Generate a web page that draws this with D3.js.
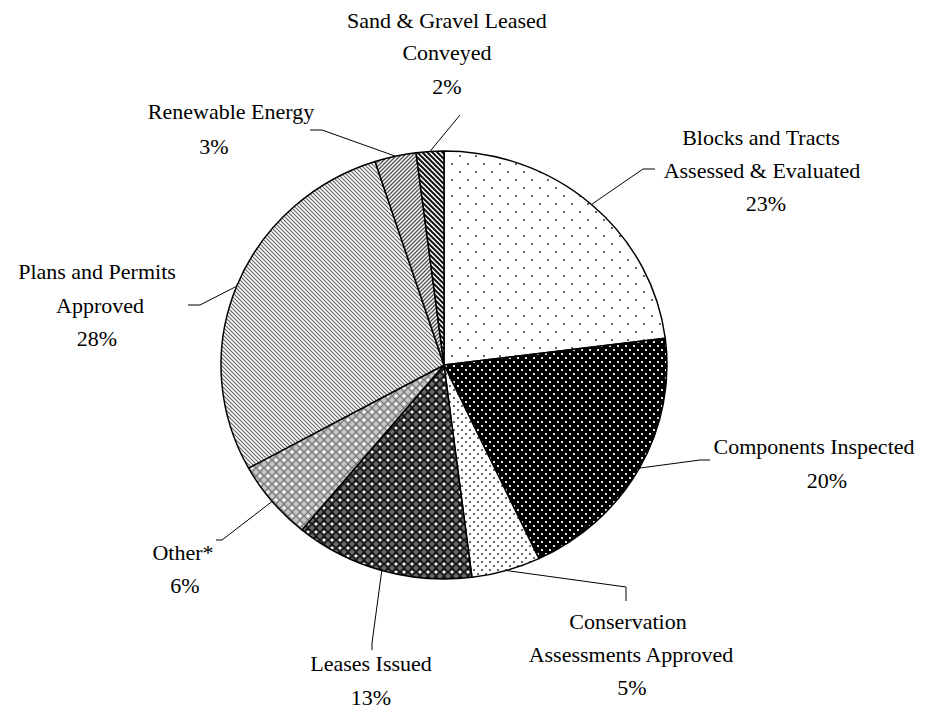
<!DOCTYPE html>
<html>
<head>
<meta charset="utf-8">
<script src="https://cdn.jsdelivr.net/npm/d3@7"></script>
<style>
  body { margin: 0; background: #fff; }
  text { font-family: 'Liberation Serif', 'Times New Roman', serif; font-size: 22px; fill: #000; }
</style>
</head>
<body>
<div class="pie-container"></div>
<script>
// Data
const categories = [
    'Blocks and Tracts Assessed & Evaluated',
    'Components Inspected',
    'Conservation Assessments Approved',
    'Leases Issued',
    'Other*',
    'Plans and Permits Approved',
    'Renewable Energy',
    'Sand & Gravel Leased Conveyed'
];
const values = [23, 20, 5, 13, 6, 28, 3, 2];
const labelLines = [
    ['Blocks and Tracts', 'Assessed & Evaluated'],
    ['Components Inspected'],
    ['Conservation', 'Assessments Approved'],
    ['Leases Issued'],
    ['Other*'],
    ['Plans and Permits', 'Approved'],
    ['Renewable Energy'],
    ['Sand & Gravel Leased', 'Conveyed']
];
const fills = ['dotsSparse', 'dotsDark', 'dotsDense', 'trellisDark', 'trellisLight', 'stripesDown', 'stripesUp', 'stripesHeavy'];

// Layout (label line centres, leader bends)
const labelLayout = [
    { x: [761, 762, 766], y: [137, 170, 203], leader: [[643, 169], [655, 169]] },
    { x: [814, 827], y: [446, 480], leader: [[700, 460], [710, 460]] },
    { x: [628, 631, 632], y: [621, 654, 687], leader: [[626, 587], [626, 601]] },
    { x: [371, 371], y: [663, 697], leader: [[372, 643], [372, 650]] },
    { x: [183, 185], y: [552, 585], leader: [[222, 540], [216, 540]] },
    { x: [97, 100, 97], y: [271, 305, 338], leader: [[200, 305], [188, 305]] },
    { x: [231, 214], y: [111, 146], leader: [[322, 130], [310, 130]] },
    { x: [447, 447, 447], y: [20, 52, 86], leader: [[460, 115]] }
];

const width = 944, height = 710;
const cx = 444, cy = 365, rx = 223, ry = 214;

const svg = d3.select('.pie-container').append('svg')
    .attr('width', width).attr('height', height);

// Patterns
const defs = svg.append('defs');
function makePattern(id, w, h, bg) {
    const p = defs.append('pattern').attr('id', id)
        .attr('patternUnits', 'userSpaceOnUse')
        .attr('width', w).attr('height', h);
    p.append('rect').attr('width', w).attr('height', h).attr('fill', bg);
    return p;
}
let p = makePattern('dotsSparse', 16, 16, '#fff');
p.append('circle').attr('cx', 4).attr('cy', 4).attr('r', 1.1).attr('fill', '#444');
p.append('circle').attr('cx', 12).attr('cy', 12).attr('r', 1.1).attr('fill', '#444');

p = makePattern('dotsDark', 8, 8, '#000');
p.append('rect').attr('x', 1).attr('y', 1).attr('width', 2).attr('height', 2).attr('fill', '#e0e0e0');
p.append('rect').attr('x', 5).attr('y', 5).attr('width', 2).attr('height', 2).attr('fill', '#e0e0e0');

p = makePattern('dotsDense', 8, 8, '#fff');
p.append('circle').attr('cx', 2).attr('cy', 2).attr('r', 1.1).attr('fill', '#444');
p.append('circle').attr('cx', 6).attr('cy', 6).attr('r', 1.1).attr('fill', '#444');

p = makePattern('trellisDark', 8, 8, '#6a6a6a');
p.append('path').attr('d', 'M0,4L4,0M4,8L8,4M0,4L4,8M4,0L8,4')
    .attr('stroke', '#111').attr('stroke-width', 1.5).attr('fill', 'none');
p.append('rect').attr('x', 3).attr('y', 3).attr('width', 2).attr('height', 2).attr('fill', '#fff');

p = makePattern('trellisLight', 8, 8, '#c4c4c4');
p.append('path').attr('d', 'M0,4L4,0M4,8L8,4M0,4L4,8M4,0L8,4')
    .attr('stroke', '#777').attr('stroke-width', 1.2).attr('fill', 'none');
p.append('rect').attr('x', 2.8).attr('y', 2.8).attr('width', 2.4).attr('height', 2.4).attr('fill', '#fff');

p = makePattern('stripesDown', 4, 4, '#fff');
p.append('path').attr('d', 'M0,0L4,4M-1,3L1,5M3,-1L5,1')
    .attr('stroke', '#666').attr('stroke-width', 1.2);

p = makePattern('stripesUp', 4, 4, '#fff');
p.append('path').attr('d', 'M0,4L4,0M-1,1L1,-1M3,5L5,3')
    .attr('stroke', '#555').attr('stroke-width', 1.4);

p = makePattern('stripesHeavy', 5, 5, '#fff');
p.append('path').attr('d', 'M0,0L5,5M-1,4L1,6M4,-1L6,1')
    .attr('stroke', '#111').attr('stroke-width', 2);

// Pie angles from d3.pie, drawn as slightly oval wedges
const pie = d3.pie().sort(null).value(d => d);
const arcs = pie(values);
const pt = a => [cx + rx * Math.sin(a), cy - ry * Math.cos(a)];

function wedge(d) {
    const p0 = pt(d.startAngle), p1 = pt(d.endAngle);
    const large = d.endAngle - d.startAngle > Math.PI ? 1 : 0;
    return `M${cx},${cy}L${p0[0]},${p0[1]}A${rx},${ry} 0 ${large},1 ${p1[0]},${p1[1]}Z`;
}

svg.append('g').selectAll('path').data(arcs).enter()
    .append('path')
    .attr('d', wedge)
    .attr('fill', (d, i) => `url(#${fills[i]})`)
    .attr('stroke', '#000')
    .attr('stroke-width', 1.5)
    .attr('stroke-linejoin', 'round');

// Leader lines
const line = d3.line();
svg.append('g').selectAll('path').data(arcs).enter()
    .append('path')
    .attr('d', (d, i) => line([pt((d.startAngle + d.endAngle) / 2), ...labelLayout[i].leader]))
    .attr('fill', 'none')
    .attr('stroke', '#000')
    .attr('stroke-width', 1);

// Labels
const labels = svg.append('g');
arcs.forEach((d, i) => {
    const lines = [...labelLines[i], `${values[i]}%`];
    const lay = labelLayout[i];
    lines.forEach((t, j) => {
        labels.append('text')
            .attr('x', lay.x[j]).attr('y', lay.y[j])
            .attr('dy', '0.35em')
            .attr('text-anchor', 'middle')
            .text(t);
    });
});
</script>
</body>
</html>
